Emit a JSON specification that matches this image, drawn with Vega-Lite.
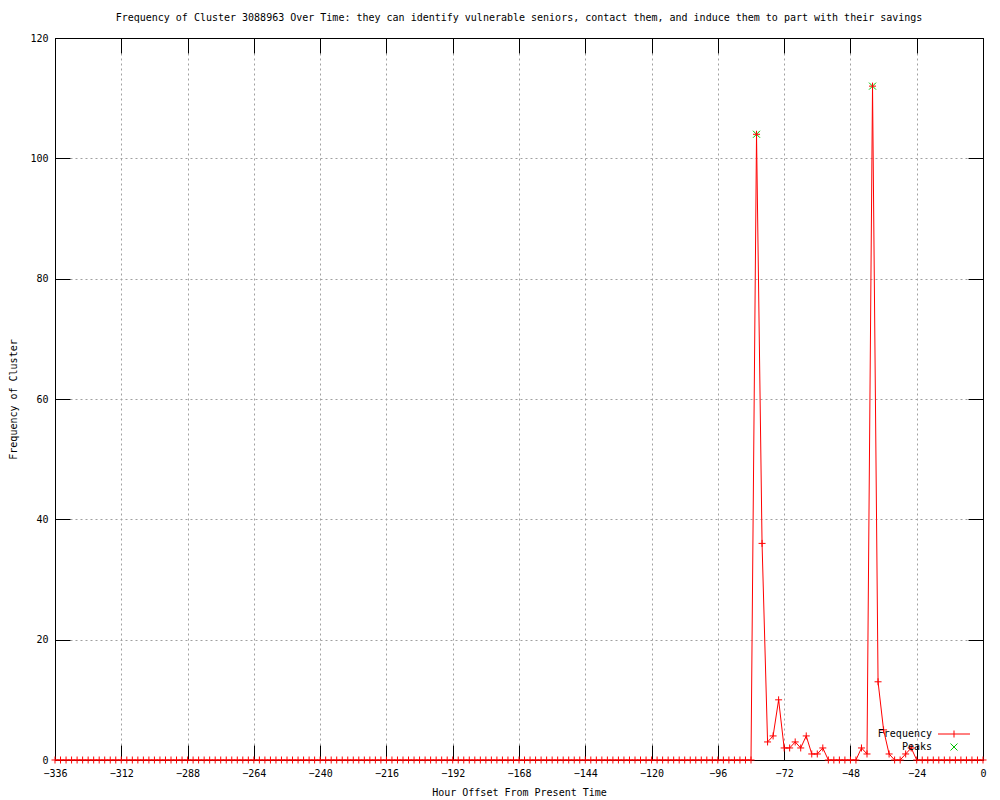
{
  "$schema": "https://vega.github.io/schema/vega-lite/v6.json",
  "width": 928,
  "height": 722,
  "autosize": {"type": "none"},
  "padding": {"left": 55, "top": 38, "right": 17, "bottom": 40},
  "background": "white",
  "title": {
    "text": "Frequency of Cluster 3088963 Over Time: they can identify vulnerable seniors, contact them, and induce them to part with their savings",
    "font": "DejaVu Sans Mono",
    "fontSize": 10,
    "fontWeight": "normal",
    "color": "black",
    "anchor": "middle",
    "frame": "group",
    "offset": 10
  },
  "config": {
    "view": {"stroke": "black", "strokeWidth": 1},
    "font": "DejaVu Sans Mono",
    "axis": {
      "labelFont": "DejaVu Sans Mono",
      "labelFontSize": 10,
      "labelColor": "black",
      "titleFont": "DejaVu Sans Mono",
      "titleFontSize": 10,
      "titleFontWeight": "normal",
      "titleColor": "black",
      "domainColor": "black",
      "tickColor": "black",
      "tickSize": -15,
      "labelFlush": false,
      "labelOverlap": false
    },
    "legend": {
      "orient": "none",
      "title": null,
      "padding": 0,
      "labelFont": "DejaVu Sans Mono",
      "labelFontSize": 10,
      "labelColor": "black",
      "labelAlign": "right",
      "labelOffset": -27,
      "symbolSize": 49,
      "symbolStrokeWidth": 1
    }
  },
  "datasets": {
    "d": [
      {"h":-336,"f":0,"s":"Frequency"},{"h":-334,"f":0,"s":"Frequency"},{"h":-332,"f":0,"s":"Frequency"},{"h":-330,"f":0,"s":"Frequency"},
      {"h":-328,"f":0,"s":"Frequency"},{"h":-326,"f":0,"s":"Frequency"},{"h":-324,"f":0,"s":"Frequency"},{"h":-322,"f":0,"s":"Frequency"},
      {"h":-320,"f":0,"s":"Frequency"},{"h":-318,"f":0,"s":"Frequency"},{"h":-316,"f":0,"s":"Frequency"},{"h":-314,"f":0,"s":"Frequency"},
      {"h":-312,"f":0,"s":"Frequency"},{"h":-310,"f":0,"s":"Frequency"},{"h":-308,"f":0,"s":"Frequency"},{"h":-306,"f":0,"s":"Frequency"},
      {"h":-304,"f":0,"s":"Frequency"},{"h":-302,"f":0,"s":"Frequency"},{"h":-300,"f":0,"s":"Frequency"},{"h":-298,"f":0,"s":"Frequency"},
      {"h":-296,"f":0,"s":"Frequency"},{"h":-294,"f":0,"s":"Frequency"},{"h":-292,"f":0,"s":"Frequency"},{"h":-290,"f":0,"s":"Frequency"},
      {"h":-288,"f":0,"s":"Frequency"},{"h":-286,"f":0,"s":"Frequency"},{"h":-284,"f":0,"s":"Frequency"},{"h":-282,"f":0,"s":"Frequency"},
      {"h":-280,"f":0,"s":"Frequency"},{"h":-278,"f":0,"s":"Frequency"},{"h":-276,"f":0,"s":"Frequency"},{"h":-274,"f":0,"s":"Frequency"},
      {"h":-272,"f":0,"s":"Frequency"},{"h":-270,"f":0,"s":"Frequency"},{"h":-268,"f":0,"s":"Frequency"},{"h":-266,"f":0,"s":"Frequency"},
      {"h":-264,"f":0,"s":"Frequency"},{"h":-262,"f":0,"s":"Frequency"},{"h":-260,"f":0,"s":"Frequency"},{"h":-258,"f":0,"s":"Frequency"},
      {"h":-256,"f":0,"s":"Frequency"},{"h":-254,"f":0,"s":"Frequency"},{"h":-252,"f":0,"s":"Frequency"},{"h":-250,"f":0,"s":"Frequency"},
      {"h":-248,"f":0,"s":"Frequency"},{"h":-246,"f":0,"s":"Frequency"},{"h":-244,"f":0,"s":"Frequency"},{"h":-242,"f":0,"s":"Frequency"},
      {"h":-240,"f":0,"s":"Frequency"},{"h":-238,"f":0,"s":"Frequency"},{"h":-236,"f":0,"s":"Frequency"},{"h":-234,"f":0,"s":"Frequency"},
      {"h":-232,"f":0,"s":"Frequency"},{"h":-230,"f":0,"s":"Frequency"},{"h":-228,"f":0,"s":"Frequency"},{"h":-226,"f":0,"s":"Frequency"},
      {"h":-224,"f":0,"s":"Frequency"},{"h":-222,"f":0,"s":"Frequency"},{"h":-220,"f":0,"s":"Frequency"},{"h":-218,"f":0,"s":"Frequency"},
      {"h":-216,"f":0,"s":"Frequency"},{"h":-214,"f":0,"s":"Frequency"},{"h":-212,"f":0,"s":"Frequency"},{"h":-210,"f":0,"s":"Frequency"},
      {"h":-208,"f":0,"s":"Frequency"},{"h":-206,"f":0,"s":"Frequency"},{"h":-204,"f":0,"s":"Frequency"},{"h":-202,"f":0,"s":"Frequency"},
      {"h":-200,"f":0,"s":"Frequency"},{"h":-198,"f":0,"s":"Frequency"},{"h":-196,"f":0,"s":"Frequency"},{"h":-194,"f":0,"s":"Frequency"},
      {"h":-192,"f":0,"s":"Frequency"},{"h":-190,"f":0,"s":"Frequency"},{"h":-188,"f":0,"s":"Frequency"},{"h":-186,"f":0,"s":"Frequency"},
      {"h":-184,"f":0,"s":"Frequency"},{"h":-182,"f":0,"s":"Frequency"},{"h":-180,"f":0,"s":"Frequency"},{"h":-178,"f":0,"s":"Frequency"},
      {"h":-176,"f":0,"s":"Frequency"},{"h":-174,"f":0,"s":"Frequency"},{"h":-172,"f":0,"s":"Frequency"},{"h":-170,"f":0,"s":"Frequency"},
      {"h":-168,"f":0,"s":"Frequency"},{"h":-166,"f":0,"s":"Frequency"},{"h":-164,"f":0,"s":"Frequency"},{"h":-162,"f":0,"s":"Frequency"},
      {"h":-160,"f":0,"s":"Frequency"},{"h":-158,"f":0,"s":"Frequency"},{"h":-156,"f":0,"s":"Frequency"},{"h":-154,"f":0,"s":"Frequency"},
      {"h":-152,"f":0,"s":"Frequency"},{"h":-150,"f":0,"s":"Frequency"},{"h":-148,"f":0,"s":"Frequency"},{"h":-146,"f":0,"s":"Frequency"},
      {"h":-144,"f":0,"s":"Frequency"},{"h":-142,"f":0,"s":"Frequency"},{"h":-140,"f":0,"s":"Frequency"},{"h":-138,"f":0,"s":"Frequency"},
      {"h":-136,"f":0,"s":"Frequency"},{"h":-134,"f":0,"s":"Frequency"},{"h":-132,"f":0,"s":"Frequency"},{"h":-130,"f":0,"s":"Frequency"},
      {"h":-128,"f":0,"s":"Frequency"},{"h":-126,"f":0,"s":"Frequency"},{"h":-124,"f":0,"s":"Frequency"},{"h":-122,"f":0,"s":"Frequency"},
      {"h":-120,"f":0,"s":"Frequency"},{"h":-118,"f":0,"s":"Frequency"},{"h":-116,"f":0,"s":"Frequency"},{"h":-114,"f":0,"s":"Frequency"},
      {"h":-112,"f":0,"s":"Frequency"},{"h":-110,"f":0,"s":"Frequency"},{"h":-108,"f":0,"s":"Frequency"},{"h":-106,"f":0,"s":"Frequency"},
      {"h":-104,"f":0,"s":"Frequency"},{"h":-102,"f":0,"s":"Frequency"},{"h":-100,"f":0,"s":"Frequency"},{"h":-98,"f":0,"s":"Frequency"},
      {"h":-96,"f":0,"s":"Frequency"},{"h":-94,"f":0,"s":"Frequency"},{"h":-92,"f":0,"s":"Frequency"},{"h":-90,"f":0,"s":"Frequency"},
      {"h":-88,"f":0,"s":"Frequency"},{"h":-86,"f":0,"s":"Frequency"},{"h":-84,"f":0,"s":"Frequency"},
      {"h":-82,"f":104,"s":"Frequency"},{"h":-80,"f":36,"s":"Frequency"},{"h":-78,"f":3,"s":"Frequency"},{"h":-76,"f":4,"s":"Frequency"},
      {"h":-74,"f":10,"s":"Frequency"},{"h":-72,"f":2,"s":"Frequency"},{"h":-70,"f":2,"s":"Frequency"},{"h":-68,"f":3,"s":"Frequency"},
      {"h":-66,"f":2,"s":"Frequency"},{"h":-64,"f":4,"s":"Frequency"},{"h":-62,"f":1,"s":"Frequency"},{"h":-60,"f":1,"s":"Frequency"},
      {"h":-58,"f":2,"s":"Frequency"},{"h":-56,"f":0,"s":"Frequency"},{"h":-54,"f":0,"s":"Frequency"},{"h":-52,"f":0,"s":"Frequency"},
      {"h":-50,"f":0,"s":"Frequency"},{"h":-48,"f":0,"s":"Frequency"},{"h":-46,"f":0,"s":"Frequency"},{"h":-44,"f":2,"s":"Frequency"},
      {"h":-42,"f":1,"s":"Frequency"},{"h":-40,"f":112,"s":"Frequency"},{"h":-38,"f":13,"s":"Frequency"},{"h":-36,"f":5,"s":"Frequency"},
      {"h":-34,"f":1,"s":"Frequency"},{"h":-32,"f":0,"s":"Frequency"},{"h":-30,"f":0,"s":"Frequency"},{"h":-28,"f":1,"s":"Frequency"},
      {"h":-26,"f":2,"s":"Frequency"},{"h":-24,"f":0,"s":"Frequency"},{"h":-22,"f":0,"s":"Frequency"},{"h":-20,"f":0,"s":"Frequency"},
      {"h":-18,"f":0,"s":"Frequency"},{"h":-16,"f":0,"s":"Frequency"},{"h":-14,"f":0,"s":"Frequency"},{"h":-12,"f":0,"s":"Frequency"},
      {"h":-10,"f":0,"s":"Frequency"},{"h":-8,"f":0,"s":"Frequency"},{"h":-6,"f":0,"s":"Frequency"},{"h":-4,"f":0,"s":"Frequency"},
      {"h":-2,"f":0,"s":"Frequency"},{"h":0,"f":0,"s":"Frequency"},
      {"h":-82,"f":104,"s":"Peaks"},{"h":-40,"f":112,"s":"Peaks"}
    ]
  },
  "data": {"name": "d"},
  "resolve": {"axis": {"x": "independent", "y": "independent"}},
  "layer": [
    {
      "transform": [{"filter": "datum.s === 'Peaks'"}],
      "mark": {"type": "point", "filled": false, "strokeWidth": 1, "size": 49, "opacity": 1, "color": "#00c000"},
      "encoding": {
        "x": {"field": "h", "type": "quantitative", "scale": {"domain": [-336, 0], "nice": false, "zero": false}, "axis": null},
        "y": {"field": "f", "type": "quantitative", "scale": {"domain": [0, 120], "nice": false}, "axis": null},
        "shape": {
          "field": "s", "type": "nominal",
          "scale": {"domain": ["Peaks"], "range": ["M-1,-1L1,1M1,-1L-1,1"]},
          "legend": {
            "legendX": 894,
            "legendY": 704,
            "symbolStrokeColor": "#00c000",
            "symbolFillColor": "transparent"
          }
        }
      }
    },
    {
      "transform": [{"filter": "datum.s === 'Frequency'"}],
      "mark": {"type": "line", "strokeWidth": 1},
      "encoding": {
        "x": {
          "field": "h", "type": "quantitative",
          "axis": {
            "orient": "bottom",
            "values": [-336, -312, -288, -264, -240, -216, -192, -168, -144, -120, -96, -72, -48, -24, 0],
            "labelPadding": 23,
            "grid": true, "gridDash": [2, 3], "gridColor": "#a0a0a0", "gridOpacity": 1,
            "title": "Hour Offset From Present Time",
            "titlePadding": 9
          }
        },
        "y": {
          "field": "f", "type": "quantitative",
          "axis": {
            "orient": "left",
            "values": [0, 20, 40, 60, 80, 100, 120],
            "labelPadding": 22,
            "grid": true, "gridDash": [2, 3], "gridColor": "#a0a0a0", "gridOpacity": 1,
            "title": "Frequency of Cluster",
            "titlePadding": 11
          }
        },
        "color": {
          "field": "s", "type": "nominal",
          "scale": {"domain": ["Frequency"], "range": ["#ff0000"]},
          "legend": {
            "legendX": 894,
            "legendY": 691,
            "symbolType": "M-4.57,0L4.57,0M0,-1L0,1",
            "symbolStrokeColor": "#ff0000",
            "symbolFillColor": "transparent"
          }
        }
      }
    },
    {
      "transform": [{"filter": "datum.s === 'Frequency'"}],
      "mark": {"type": "point", "filled": false, "strokeWidth": 1, "size": 49, "opacity": 1, "color": "#ff0000", "shape": "M-1,0L1,0M0,-1L0,1"},
      "encoding": {
        "x": {
          "field": "h", "type": "quantitative",
          "axis": {
            "orient": "top",
            "values": [-336, -312, -288, -264, -240, -216, -192, -168, -144, -120, -96, -72, -48, -24, 0],
            "labels": false, "grid": false, "title": null
          }
        },
        "y": {
          "field": "f", "type": "quantitative",
          "axis": {
            "orient": "right",
            "values": [0, 20, 40, 60, 80, 100, 120],
            "labels": false, "grid": false, "title": null
          }
        }
      }
    }
  ]
}
